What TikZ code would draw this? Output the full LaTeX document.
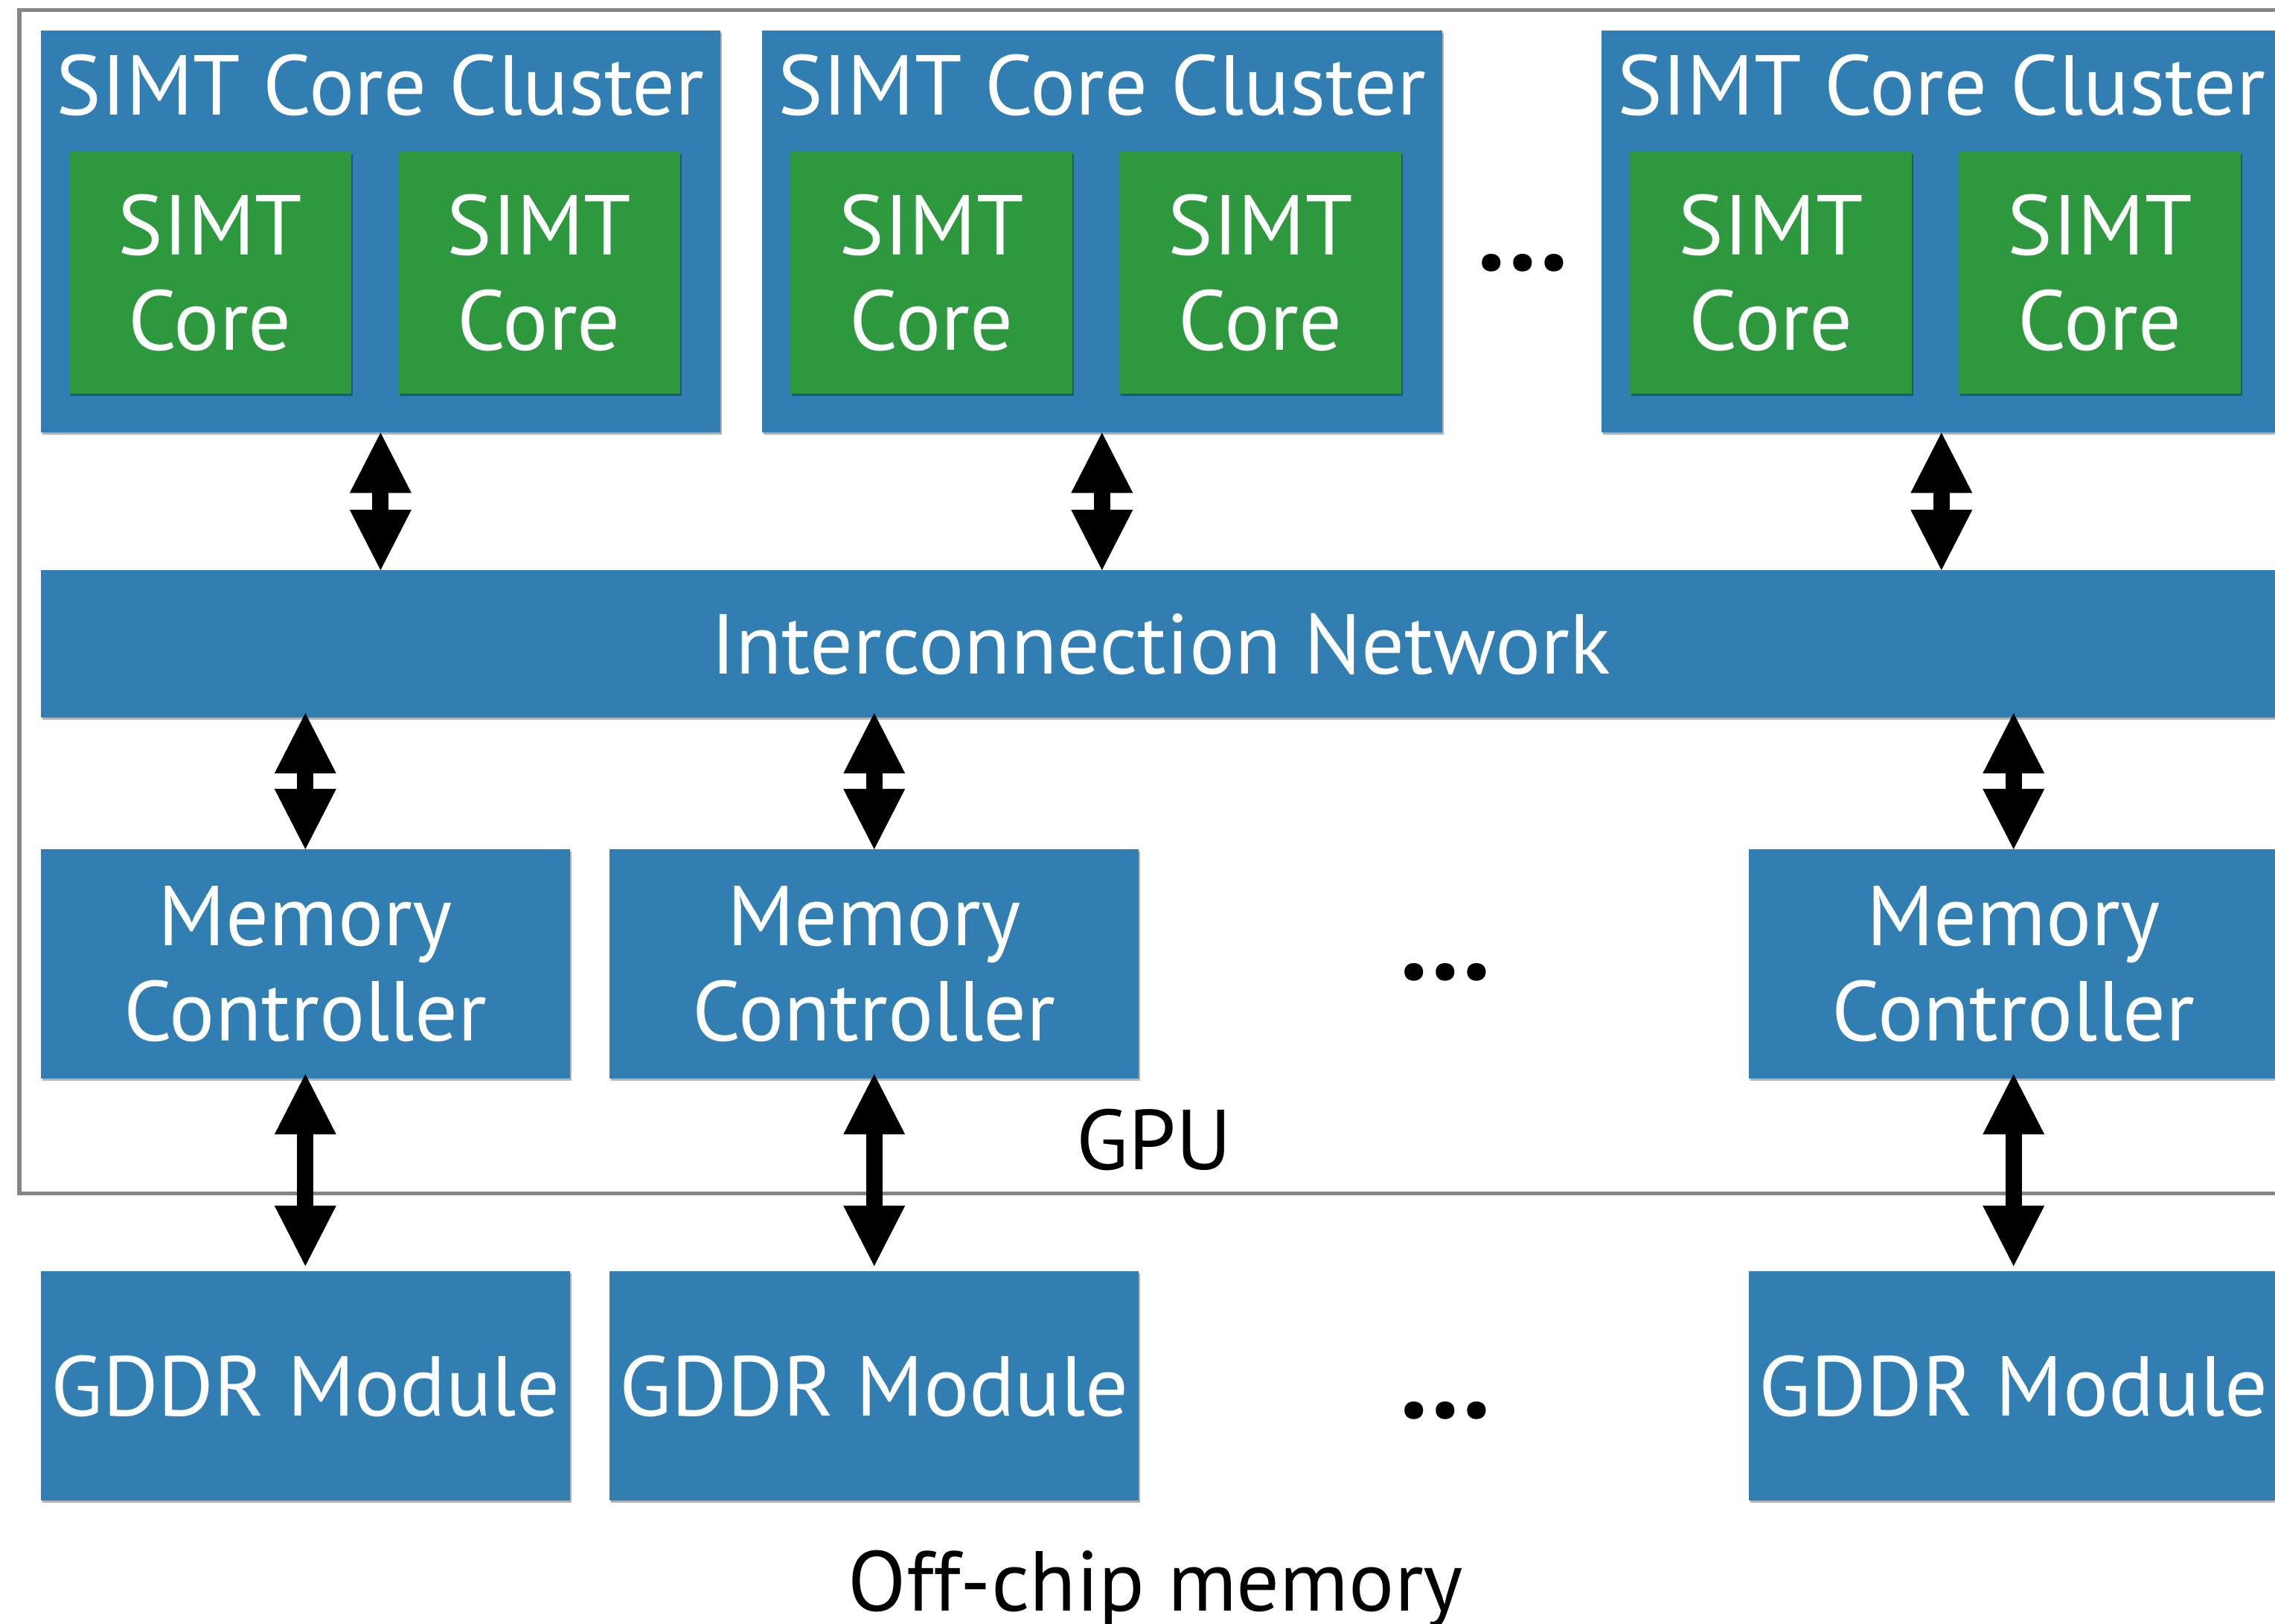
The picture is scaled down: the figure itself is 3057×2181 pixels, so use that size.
\documentclass[tikz,border=0pt]{standalone}
\usepackage{fontspec}
\setmainfont{PT Sans}
\usetikzlibrary{arrows.meta,shadows}

\definecolor{simtblue}{RGB}{49,126,178}
\definecolor{simtgreen}{RGB}{46,152,62}
\definecolor{framegray}{RGB}{132,132,138}

\newcommand\blockfont{\fontsize{32.5}{36.4}\selectfont}
\newcommand\dotfont{\fontsize{44}{44}\selectfont\bfseries}

\tikzset{
  box/.style={inner sep=0pt, outer sep=0pt, anchor=north west,
    text=white, font=\blockfont, align=center,
    drop shadow={shadow xshift=0.02cm, shadow yshift=-0.03cm, opacity=0.3, fill=black}},
  cluster/.style={box, fill=simtblue, minimum width=9.13cm, minimum height=5.40cm},
  core/.style={box, fill=simtgreen, minimum width=3.79cm, minimum height=3.25cm},
  unit/.style={box, fill=simtblue, minimum width=7.11cm, minimum height=3.08cm},
  network/.style={box, fill=simtblue, minimum width=30.08cm, minimum height=1.98cm},
  title/.style={inner sep=0pt, anchor=base, text=white, font=\blockfont},
  caption/.style={inner sep=0pt, anchor=base, text=black, font=\blockfont},
  dots/.style={inner sep=0pt, anchor=center, text=black, font=\dotfont},
  biarrow/.style={line width=0.22cm,
    {Triangle[width=0.83cm, length=0.81cm, line width=0pt]}-{Triangle[width=0.83cm, length=0.81cm, line width=0pt]}},
  gpuframe/.style={draw=framegray, line width=0.05cm}
}

\begin{document}
\begin{tikzpicture}[x=0.01cm, y=-0.01cm]
  \useasboundingbox (0,0) rectangle (3057,2181);

  % GPU outline
  \draw[gpuframe] (26,13) rectangle (3100,1603);

  % SIMT core clusters with two cores each
  \foreach \n/\x in {1/54.6, 2/1024, 3/2152} {
    \node[cluster] (cl\n) at (\x,41) {};
    \node[title] (tt\n) at (\x+456.5,154) {SIMT Core Cluster};
    \node[core] (ca\n) at (\x+38,204) {SIMT\\Core};
    \node[core] (cb\n) at (\x+480,204) {SIMT\\Core};
  }
  \node[dots] (dtop) at (2046,353) {…};

  % interconnection network
  \node[network] (net) at (54.6,766) {Interconnection Network};

  % memory controllers and GDDR modules
  \foreach \n/\x in {1/54.6, 2/819, 3/2350} {
    \node[unit] (mc\n) at (\x,1141) {Memory\\Controller};
    \node[unit] (gd\n) at (\x,1708) {GDDR Module};
  }
  \node[dots] (dmc) at (1942,1306) {…};
  \node[dots] (dgd) at (1942,1895) {…};

  \node[caption] (gpu) at (1551,1571) {GPU};
  \node[caption] (off) at (1553,2164) {Off-chip memory};

  % links
  \foreach \n in {1,2,3} {
    \draw[biarrow] (cl\n.south) -- (cl\n.south |- net.north);
    \draw[biarrow] ([yshift=0.06cm]mc\n.north |- net.south) -- (mc\n.north);
    \draw[biarrow, shorten >=0.07cm] ([yshift=0.06cm]mc\n.south) -- (gd\n.north);
  }
\end{tikzpicture}
\end{document}
